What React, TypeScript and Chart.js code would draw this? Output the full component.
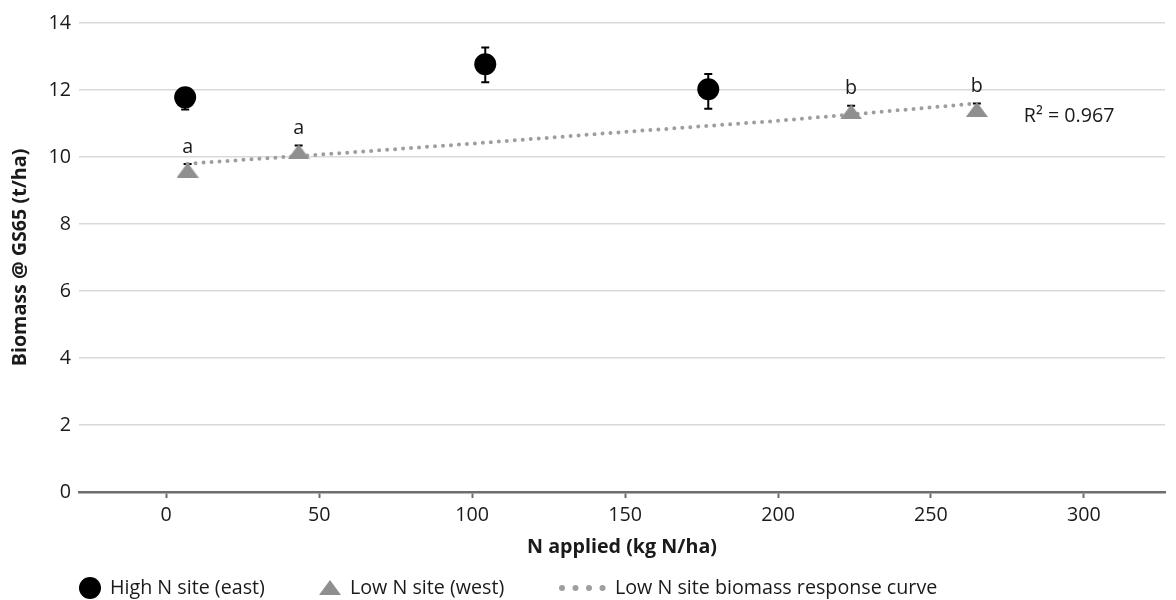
import React, { useEffect, useRef } from "react";
import { Chart, registerables } from "chart.js";

Chart.register(...registerables);

// ---- data ----
const seriesNames = ["High N site (east)", "Low N site (west)", "Low N site biomass response curve"];
const highX = [6.2, 104.3, 177.2];
const highY = [11.78, 12.77, 12.02];
const highErrUp = [0.28, 0.5, 0.46];
const highErrDown = [0.36, 0.54, 0.58];
const lowX = [7.0, 43.3, 223.9, 265.0];
const lowY = [9.61, 10.16, 11.35, 11.42];
const lowErrUp = [0.18, 0.18, 0.18, 0.18];
const lowErrDown = [0.18, 0.18, 0.18, 0.18];
const lowLetters = ["a", "a", "b", "b"];
const trendX = [7, 50, 100, 150, 200, 265];
const trendY = [9.8, 10.07, 10.4, 10.75, 11.08, 11.6];
const rSquaredText = "R² = 0.967";
const xTicks = [0, 50, 100, 150, 200, 250, 300];
const yTicks = [0, 2, 4, 6, 8, 10, 12, 14];
const xTitle = "N applied (kg N/ha)";
const yTitle = "Biomass @ GS65 (t/ha)";

const FONT = "'Open Sans', sans-serif";
const FS = 19.7;
const TEXT = "#1a1a1a";
const TRI = "#8f8f8f";
const DOT = "#9e9e9e";

function makeTriangle(w: number, h: number, color: string) {
  const c = document.createElement("canvas");
  c.width = w;
  c.height = h;
  const g = c.getContext("2d")!;
  g.fillStyle = color;
  g.beginPath();
  g.moveTo(w / 2, 0);
  g.lineTo(w, h);
  g.lineTo(0, h);
  g.closePath();
  g.fill();
  return c;
}

export default function App() {
  const ref = useRef<HTMLCanvasElement | null>(null);

  useEffect(() => {
    if (!ref.current) return;
    const tri = makeTriangle(22, 15, TRI);

    const errorBars = {
      id: "errorBars",
      beforeDatasetsDraw(chart: any) {
        const ctx = chart.ctx;
        const ys = chart.scales.y;
        const sets = [
          { i: 0, up: highErrUp, down: highErrDown, vals: highY },
          { i: 1, up: lowErrUp, down: lowErrDown, vals: lowY },
        ];
        ctx.save();
        ctx.strokeStyle = "#000";
        ctx.lineWidth = 2;
        sets.forEach((s) => {
          const meta = chart.getDatasetMeta(s.i);
          meta.data.forEach((el: any, k: number) => {
            const x = el.x;
            const top = ys.getPixelForValue(s.vals[k] + s.up[k]);
            const bot = ys.getPixelForValue(s.vals[k] - s.down[k]);
            ctx.beginPath();
            ctx.moveTo(x, top);
            ctx.lineTo(x, bot);
            ctx.moveTo(x - 4, top);
            ctx.lineTo(x + 4, top);
            ctx.moveTo(x - 4, bot);
            ctx.lineTo(x + 4, bot);
            ctx.stroke();
          });
        });
        ctx.restore();
      },
    };

    const annotations = {
      id: "annotations",
      afterDatasetsDraw(chart: any) {
        const ctx = chart.ctx;
        ctx.save();
        ctx.fillStyle = TEXT;
        ctx.font = `${FS}px ${FONT}`;
        ctx.textAlign = "center";
        ctx.textBaseline = "middle";
        const lowMeta = chart.getDatasetMeta(1);
        lowMeta.data.forEach((el: any, k: number) => {
          ctx.fillText(lowLetters[k], el.x, el.y - 23);
        });
        const tMeta = chart.getDatasetMeta(2);
        const last = tMeta.data[tMeta.data.length - 1];
        ctx.textAlign = "left";
        ctx.fillText(rSquaredText, last.x + 47, last.y + 13);
        ctx.restore();
      },
    };

    const legend = {
      id: "customLegend",
      afterDraw(chart: any) {
        const ctx = chart.ctx;
        const y = 588;
        ctx.save();
        ctx.fillStyle = "#000";
        ctx.beginPath();
        ctx.arc(90, y, 11, 0, Math.PI * 2);
        ctx.fill();
        ctx.drawImage(tri, 330 - 11, y - 8);
        ctx.fillStyle = DOT;
        for (let i = 0; i < 4; i++) {
          ctx.beginPath();
          ctx.arc(562 + i * 13.5, y, 3, 0, Math.PI * 2);
          ctx.fill();
        }
        ctx.fillStyle = TEXT;
        ctx.font = `${FS}px ${FONT}`;
        ctx.textAlign = "left";
        ctx.textBaseline = "middle";
        ctx.fillText(seriesNames[0], 110, y);
        ctx.fillText(seriesNames[1], 350, y);
        ctx.fillText(seriesNames[2], 615, y);
        ctx.restore();
      },
    };

    const chart = new Chart(ref.current, {
      type: "scatter",
      data: {
        datasets: [
          {
            label: seriesNames[0],
            data: highX.map((x, i) => ({ x, y: highY[i] })),
            pointStyle: "circle",
            pointRadius: 11,
            backgroundColor: "#000",
            borderColor: "#000",
            borderWidth: 0,
            showLine: false,
          },
          {
            label: seriesNames[1],
            data: lowX.map((x, i) => ({ x, y: lowY[i] })),
            pointStyle: tri as any,
            pointRadius: 11,
            backgroundColor: TRI,
            borderWidth: 0,
            showLine: false,
          },
          {
            label: seriesNames[2],
            data: trendX.map((x, i) => ({ x, y: trendY[i] })),
            showLine: true,
            pointRadius: 0,
            borderColor: DOT,
            borderWidth: 4,
            borderDash: [0, 8],
            borderCapStyle: "round",
            fill: false,
          } as any,
        ],
      },
      options: {
        animation: false,
        responsive: false,
        events: [],
        layout: { padding: { top: 23, left: 0, right: 0, bottom: 40 } },
        plugins: {
          legend: { display: false },
          tooltip: { enabled: false },
        },
        scales: {
          x: {
            type: "linear",
            min: -28.5,
            max: 326.5,
            afterBuildTicks: (s: any) => {
              s.ticks = xTicks.map((v) => ({ value: v }));
            },
            afterFit: (s: any) => {
              s.height = 68;
            },
            grid: {
              drawOnChartArea: false,
              drawTicks: true,
              tickLength: 6,
              tickWidth: 2,
              tickColor: "#6d6d6d",
            },
            border: { display: true, color: "#6d6d6d", width: 2.5 },
            ticks: { padding: 6, color: TEXT, font: { family: FONT, size: FS } },
            title: {
              display: true,
              text: xTitle,
              color: TEXT,
              font: { family: FONT, size: FS, weight: "bold" },
              padding: { top: 0, bottom: 1 },
            },
          },
          y: {
            type: "linear",
            min: 0,
            max: 14,
            afterBuildTicks: (s: any) => {
              s.ticks = yTicks.map((v) => ({ value: v }));
            },
            afterFit: (s: any) => {
              s.width = 79;
            },
            grid: { color: "#d9d9d9", lineWidth: 1.5, drawTicks: false },
            border: { display: false },
            ticks: { padding: 8, color: TEXT, font: { family: FONT, size: FS } },
            title: {
              display: true,
              text: yTitle,
              color: TEXT,
              font: { family: FONT, size: FS, weight: "bold" },
              padding: { top: 9, bottom: 0 },
            },
          },
        },
      } as any,
      plugins: [errorBars, annotations, legend],
    });
    return () => chart.destroy();
  }, []);

  return (
    <div style={{ position: "absolute", left: 0, top: 0, width: 1176, height: 600, background: "#fff" }}>
      <canvas ref={ref} width={1176} height={600} style={{ display: "block" }} />
    </div>
  );
}
